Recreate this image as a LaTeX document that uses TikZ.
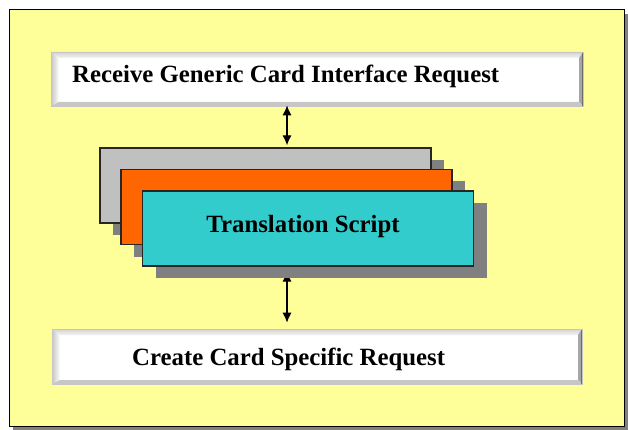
\documentclass[tikz,border=0pt]{standalone}
\usepackage{fontspec}
\setmainfont{Liberation Serif}
\usetikzlibrary{shadows,arrows.meta,calc}
\pgfdeclarelayer{back}
\pgfdeclarelayer{bg}
\pgfsetlayers{back,bg,main}
\definecolor{paper}{HTML}{FFFF99}
\definecolor{shade}{HTML}{808080}
\definecolor{cardgray}{HTML}{C0C0C0}
\definecolor{cardorange}{HTML}{FF6600}
\definecolor{cardcyan}{HTML}{33CCCC}
\begin{document}
\begin{tikzpicture}[x=1pt,y=-1pt,
 frame/.style={draw=black, line width=1pt, fill=paper, inner sep=0,
   drop shadow={shadow xshift=4pt, shadow yshift=-4pt, fill=shade, opacity=1}},
 card/.style={draw=black!85, line width=1.2pt, inner sep=0, minimum width=331pt, minimum height=75pt,
   drop shadow={shadow xshift=13pt, shadow yshift=-12pt, fill=shade, opacity=1}},
 bevelbox/.style={inner sep=0, fill=white, draw=gray!45, line width=0.6pt,
   path picture={
     \path (path picture bounding box.north west) coordinate (bnw)
           (path picture bounding box.north east) coordinate (bne)
           (path picture bounding box.south west) coordinate (bsw)
           (path picture bounding box.south east) coordinate (bse);
     \shade[top color=gray!35, bottom color=gray!8] (bnw) -- (bne) -- ([shift={(-4pt,-6pt)}]bne) -- ([shift={(8pt,-6pt)}]bnw) -- cycle;
     \shade[left color=gray!45, right color=white] (bnw) -- ([shift={(8pt,-6pt)}]bnw) -- ([shift={(8pt,4pt)}]bsw) -- (bsw) -- cycle;
     \fill[gray!70] (bne) -- (bse) -- ([shift={(-4pt,4pt)}]bse) -- ([shift={(-4pt,-6pt)}]bne) -- cycle;
     \fill[gray!45] (bsw) -- (bse) -- ([shift={(-4pt,4pt)}]bse) -- ([shift={(8pt,4pt)}]bsw) -- cycle;
     \draw[gray!85!black, line width=1.2pt] (bne) -- (bse);
   }},
 lbl/.style={font=\fontsize{24.8}{28}\selectfont\bfseries, inner sep=0},
 dar/.style={{Latex[length=10pt,width=9pt]}-{Latex[length=10pt,width=9pt]}, line width=1.2pt}
]
\useasboundingbox (0,0) rectangle (628,430);
\begin{pgfonlayer}{back}
\node[frame, minimum width=615pt, minimum height=416pt] (frame) at (316.5,218) {};
\end{pgfonlayer}

\node[bevelbox, minimum width=532pt, minimum height=54pt] (top) at (317,79) {};
\node[bevelbox, minimum width=530pt, minimum height=55pt] (bot) at (317,356.5) {};

\node[card, fill=cardgray] (gray) at (265.5,185.5) {};
\node[card, fill=cardorange] (orange) at (286.5,207) {};
\node[card, fill=cardcyan] (cyan) at (308,228.5) {};

\node[lbl, anchor=base west] (t1) at (72,83) {Receive Generic Card Interface Request};
\node[lbl, anchor=base] (t2) at (303,232) {Translation Script};
\node[lbl, anchor=base west] (t3) at (132,365) {Create Card Specific Request};

\coordinate (ax) at (287,0);
\draw[dar] ($(ax |- top.south)+(0,-1)$) -- ($(ax |- gray.north)+(0,-2)$);
\begin{pgfonlayer}{bg}
\draw[dar] ($(ax |- cyan.south)+(0,5)$) -- ($(ax |- bot.north)+(0,-6)$);
\end{pgfonlayer}
\end{tikzpicture}
\end{document}
